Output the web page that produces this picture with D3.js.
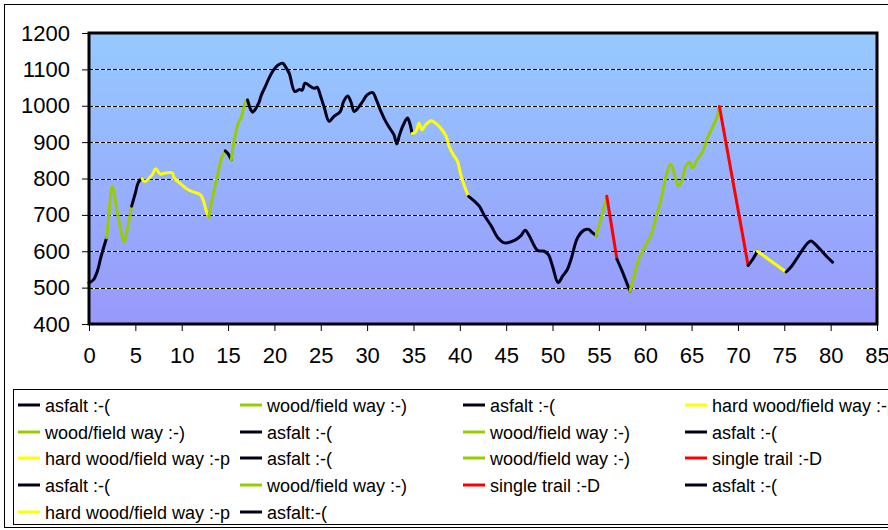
<!DOCTYPE html>
<html>
<head>
<meta charset="utf-8">
<script src="https://cdn.jsdelivr.net/npm/d3@7"></script>
<style>
  html, body { margin: 0; padding: 0; background: #fff; }
  svg { display: block; font-family: Arial, "Liberation Sans", sans-serif; }
</style>
</head>
<body>
<svg id="chart" width="888" height="530"></svg>
<script>
// ---- data ----
const legendLabels = [
  "asfalt :-(", "wood/field way :-)", "asfalt :-(", "hard wood/field way :-p",
  "wood/field way :-)", "asfalt :-(", "wood/field way :-)", "asfalt :-(",
  "hard wood/field way :-p", "asfalt :-(", "wood/field way :-)", "single trail :-D",
  "asfalt :-(", "wood/field way :-)", "single trail :-D", "asfalt :-(",
  "hard wood/field way :-p", "asfalt:-("
];
const surfaceTypes = [
  "asfalt", "wood", "asfalt", "hard", "wood", "asfalt", "wood", "asfalt",
  "hard", "asfalt", "wood", "single", "asfalt", "wood", "single", "asfalt",
  "hard", "asfalt"
];
const surfaceColors = { asfalt: "#00001a", wood: "#99cc00", hard: "#ffff00", single: "#ff0000" };

const distanceKm = [
  [0, 0.5, 0.9, 1.3, 1.9],
  [1.9, 2.1, 2.45, 2.55, 3.0, 3.5, 3.8, 4.2, 4.6],
  [4.6, 5.0, 5.3, 5.7],
  [5.7, 6.0, 6.8, 7.2, 7.7, 8.2, 9.0, 9.2, 10.0, 10.7, 11.4, 12.0, 12.3, 12.6, 12.9],
  [12.9, 13.2, 13.6, 14.0, 14.3, 14.7],
  [14.7, 15.0, 15.35],
  [15.35, 15.6, 15.8, 16.1, 16.4, 16.65, 16.9, 17.1],
  [17.1, 17.45, 17.65, 17.9, 18.3, 18.6, 19.0, 19.5, 19.9, 20.4, 20.9, 21.2, 21.6, 22.2, 22.7, 23.0, 23.3, 23.9, 24.3, 24.6, 25.0, 25.4, 25.9, 26.4, 27.1, 27.45, 27.9, 28.25, 28.6, 29.0, 29.5, 30.0, 30.6, 31.0, 31.5, 32.0, 32.55, 32.9, 33.2, 33.5, 33.9, 34.35, 34.6, 34.85],
  [34.85, 35.25, 35.6, 35.9, 36.3, 36.9, 37.4, 37.95, 38.5, 38.85, 39.3, 39.75, 40.1, 40.5, 40.95],
  [40.95, 41.6, 42.1, 42.7, 43.4, 44.1, 44.8, 45.9, 46.6, 47.05, 47.5, 48.4, 49.1, 49.55, 50.0, 50.6, 51.1, 51.6, 52.0, 52.7, 53.4, 53.9, 54.3, 54.7],
  [54.7, 55.2, 55.85],
  [55.85, 56.95],
  [56.95, 57.5, 58.35],
  [58.35, 58.8, 59.3, 59.9, 60.6, 61.1, 61.7, 62.2, 62.7, 62.9, 63.3, 63.6, 64.0, 64.35, 64.8, 65.1, 65.6, 66.2, 66.7, 67.2, 67.7, 68.0],
  [68.0, 71.1],
  [71.1, 71.6, 72.1],
  [72.1, 75.2],
  [75.2, 75.7, 76.3, 77.0, 77.5, 77.9, 78.3, 78.9, 79.6, 80.2]
];
const elevationM = [
  [513, 522, 545, 585, 637],
  [637, 687, 774, 779, 715, 651, 625, 669, 724],
  [724, 760, 788, 801],
  [801, 792, 810, 827, 812, 815, 815, 801, 783, 769, 762, 756, 742, 715, 692],
  [692, 733, 779, 824, 856, 876],
  [876, 868, 852],
  [852, 897, 920, 952, 966, 989, 1011, 1016],
  [1016, 989, 982, 989, 1007, 1030, 1052, 1080, 1098, 1112, 1117, 1107, 1089, 1039, 1045, 1043, 1062, 1053, 1048, 1051, 1025, 993, 957, 970, 984, 1011, 1027, 1011, 984, 993, 1011, 1030, 1036, 1016, 984, 957, 934, 920, 895, 920, 947, 966, 952, 923],
  [923, 929, 952, 934, 947, 959, 952, 938, 917, 888, 865, 847, 811, 779, 751],
  [751, 737, 724, 696, 669, 637, 623, 630, 643, 658, 642, 602, 600, 591, 559, 514, 532, 550, 578, 637, 658, 660, 651, 643],
  [643, 687, 751],
  [751, 578],
  [578, 546, 490],
  [490, 532, 578, 610, 642, 687, 742, 801, 840, 833, 797, 779, 797, 833, 845, 828, 852, 874, 911, 938, 966, 998],
  [998, 561],
  [561, 578, 600],
  [600, 543],
  [543, 556, 578, 605, 622, 628, 620, 604, 585, 570]
];
const xTicks = [0, 5, 10, 15, 20, 25, 30, 35, 40, 45, 50, 55, 60, 65, 70, 75, 80, 85];
const yTicks = [400, 500, 600, 700, 800, 900, 1000, 1100, 1200];

// ---- drawing ----
const svg = d3.select("#chart");
const plot = { left: 89, right: 877, top: 33, bottom: 324 };
const x = d3.scaleLinear().domain([0, 85]).range([plot.left, plot.right]);
const y = d3.scaleLinear().domain([400, 1200]).range([plot.bottom, plot.top]);

// outer chart border
svg.append("rect").attr("x", 4.5).attr("y", 4.5).attr("width", 900).attr("height", 523)
  .attr("fill", "#fff").attr("stroke", "#000").attr("stroke-width", 1);

// gradient background
const defs = svg.append("defs");
const grad = defs.append("linearGradient").attr("id", "bg").attr("x1", 0).attr("y1", 0).attr("x2", 0).attr("y2", 1);
grad.append("stop").attr("offset", "0%").attr("stop-color", "#96caff");
grad.append("stop").attr("offset", "100%").attr("stop-color", "#9898fb");
svg.append("rect").attr("x", plot.left).attr("y", plot.top)
  .attr("width", plot.right - plot.left).attr("height", plot.bottom - plot.top)
  .attr("fill", "url(#bg)");

// gridlines
const grid = svg.append("g");
yTicks.filter(v => v > 400 && v < 1200).forEach(v => {
  const yy = Math.round(y(v)) + 0.5;
  grid.append("line").attr("x1", plot.left).attr("x2", plot.right).attr("y1", yy).attr("y2", yy)
    .attr("stroke", "#fff").attr("stroke-width", 1);
  grid.append("line").attr("x1", plot.left).attr("x2", plot.right).attr("y1", yy).attr("y2", yy)
    .attr("stroke", "#000").attr("stroke-width", 1).attr("stroke-dasharray", "4,2");
});

// axes
const yAxis = d3.axisLeft(y).tickValues(yTicks).tickFormat(d3.format("d")).tickSize(7).tickPadding(12);
const xAxis = d3.axisBottom(x).tickValues(xTicks).tickFormat(d3.format("d")).tickSize(7).tickPadding(16);
const gy = svg.append("g").attr("transform", `translate(${plot.left},0)`).call(yAxis);
const gx = svg.append("g").attr("transform", `translate(0,${plot.bottom})`).call(xAxis);
[gy, gx].forEach(g => {
  g.select(".domain").remove();
  g.selectAll(".tick line").attr("stroke", "#000").attr("stroke-width", 1);
  g.selectAll(".tick text").attr("fill", "#000").style("font-size", "22px")
    .style("font-family", "Arial, 'Liberation Sans', sans-serif");
});

// series lines
const line = d3.line()
  .x(d => x(d[0])).y(d => y(d[1]))
  .curve(d3.curveCatmullRom.alpha(0.5));
const linesG = svg.append("g");
distanceKm.forEach((ks, i) => {
  const pts = ks.map((k, j) => [k, elevationM[i][j]]);
  linesG.append("path").attr("d", line(pts))
    .attr("fill", "none").attr("stroke", surfaceColors[surfaceTypes[i]])
    .attr("stroke-width", 3).attr("stroke-linejoin", "round").attr("stroke-linecap", "round");
});

// plot border
svg.append("rect").attr("x", plot.left).attr("y", plot.top)
  .attr("width", plot.right - plot.left).attr("height", plot.bottom - plot.top)
  .attr("fill", "none").attr("stroke", "#000").attr("stroke-width", 3);

// legend
const legend = svg.append("g");
legend.append("rect").attr("x", 13.5).attr("y", 389.5).attr("width", 900).attr("height", 135)
  .attr("fill", "#fff").attr("stroke", "#000").attr("stroke-width", 1);
const colX = [18, 240, 463, 685];
const rowY = [405, 432, 458, 485, 512];
legendLabels.forEach((lab, i) => {
  const cx = colX[i % 4], cy = rowY[Math.floor(i / 4)];
  legend.append("line").attr("x1", cx).attr("x2", cx + 22).attr("y1", cy).attr("y2", cy)
    .attr("stroke", surfaceColors[surfaceTypes[i]]).attr("stroke-width", 3);
  legend.append("text").attr("x", cx + 27).attr("y", cy + 6.5)
    .style("font-size", "18px").attr("fill", "#000").text(lab);
});
</script>
</body>
</html>
